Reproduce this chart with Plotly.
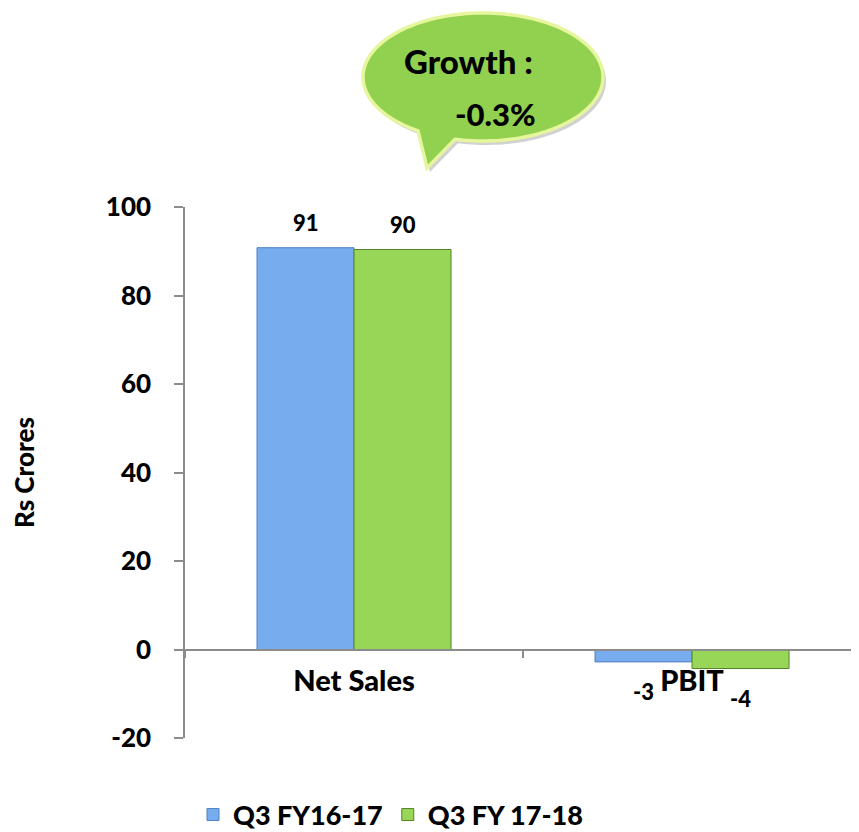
import numpy as np
import plotly.graph_objects as go

# ---- data ----
categories = ["Net Sales", "PBIT"]
series_names = ["Q3 FY16-17", "Q3 FY 17-18"]
q3_fy1617 = [90.8, -2.8]
q3_fy1718 = [90.4, -4.3]
y_ticks = [-20, 0, 20, 40, 60, 80, 100]
y_tick_text = ["-20", "0", "20", "40", "60", "80", "100"]
growth_lines = ["Growth :", "-0.3%"]

# ---- layout geometry (pixels; page body adds an 8px offset) ----
OFF = 8
W, H = 859 - OFF, 832 - OFF
ML, MR = 185 - OFF, 0
MT = 207 - OFF
MB = H - (738 - OFF)
PW = W - ML - MR
PH = H - MT - MB


def px(x):
    """reference-picture x pixel -> paper coordinate"""
    return (x - OFF - ML) / PW


def py(y):
    """reference-picture y pixel -> paper coordinate"""
    return (H - MB - (y - OFF)) / PH


FONT = "Lato"
WEIGHT = 900
colors = ["#77adee", "#97d656"]
edge_colors = ["#4f80c0", "#56802c"]

fig = go.Figure()
series = [q3_fy1617, q3_fy1718]
for name, vals, c, lc in zip(series_names, series, colors, edge_colors):
    fig.add_trace(go.Bar(
        x=categories, y=vals, name=name,
        marker=dict(color=c, line=dict(color=lc, width=1)),
        hoverinfo="x+y+name",
    ))

annotations = []
for i, vals in enumerate(series):
    for cat, v in zip(categories, vals):
        annotations.append(dict(
            x=cat, y=v, xref="x", yref="y",
            text=f"{int(round(v))}", showarrow=False,
            xshift=(-48.5 if i == 0 else 48.5),
            yshift=(25 if v > 0 else -30),
            xanchor="center", yanchor="middle",
            font=dict(family=FONT, size=22, color="black", weight=WEIGHT),
        ))

# y axis title
annotations.append(dict(
    x=px(24), y=py(473), xref="paper", yref="paper",
    xanchor="center", yanchor="middle",
    text="Rs Crores", textangle=-90, showarrow=False,
    font=dict(family=FONT, size=26, color="black", weight=WEIGHT),
))

# ---- speech bubble ----
cx, cy, rx, ry = 483, 77, 120, 64
th = np.radians(np.linspace(122.8, 463.5, 160))
pts = [(cx + rx * np.cos(t), cy + ry * np.sin(t)) for t in th]
pts.append((427, 168))


def make_path(points, dx=0, dy=0):
    s = "M " + " L ".join(f"{px(x + dx):.5f},{py(y + dy):.5f}" for x, y in points)
    return s + " Z"


shapes = [
    dict(type="path", xref="paper", yref="paper", path=make_path(pts, 3, 4),
         fillcolor="rgba(0,0,0,0.18)", line=dict(width=0), layer="above"),
    dict(type="path", xref="paper", yref="paper", path=make_path(pts),
         fillcolor="#92d050", line=dict(color="#e6f69c", width=3.5), layer="above"),
]

annotations.append(dict(
    x=px(468), y=py(61), xref="paper", yref="paper", text=growth_lines[0],
    xanchor="center", yanchor="middle",
    showarrow=False, font=dict(family=FONT, size=33, color="black", weight=WEIGHT),
))
annotations.append(dict(
    x=px(495), y=py(114), xref="paper", yref="paper", text=growth_lines[1],
    xanchor="center", yanchor="middle",
    showarrow=False, font=dict(family=FONT, size=31, color="black", weight=WEIGHT),
))

axis_col = "#8c8c8c"
fig.update_layout(
    width=W, height=H,
    margin=dict(l=ML, r=MR, t=MT, b=MB, autoexpand=False),
    paper_bgcolor="white", plot_bgcolor="white",
    barmode="group", bargap=0.426, bargroupgap=0,
    showlegend=True,
    legend=dict(orientation="h", x=px(193), y=py(815), xanchor="left", yanchor="middle",
                font=dict(family=FONT, size=27, color="black", weight=WEIGHT),
                bgcolor="rgba(0,0,0,0)"),
    xaxis=dict(type="category", range=[-0.5, 1.494], anchor="free", position=20 / 120,
               showline=True, linecolor=axis_col, linewidth=1.5,
               ticks="outside", tickson="boundaries", ticklen=8, tickcolor=axis_col, tickwidth=1.5,
               ticklabelstandoff=6,
               tickfont=dict(family=FONT, size=29, color="black", weight=WEIGHT),
               showgrid=False, zeroline=False, automargin=False),
    yaxis=dict(range=[-20, 100], tickvals=y_ticks, ticktext=y_tick_text,
               showline=True, linecolor=axis_col, linewidth=1.5,
               ticks="outside", ticklen=9, tickcolor=axis_col, tickwidth=1.5,
               ticklabelstandoff=18,
               tickfont=dict(family=FONT, size=26, color="black", weight=WEIGHT),
               showgrid=False, zeroline=False, automargin=False),
    annotations=annotations,
    shapes=shapes,
)

fig.write_html("out.html")
